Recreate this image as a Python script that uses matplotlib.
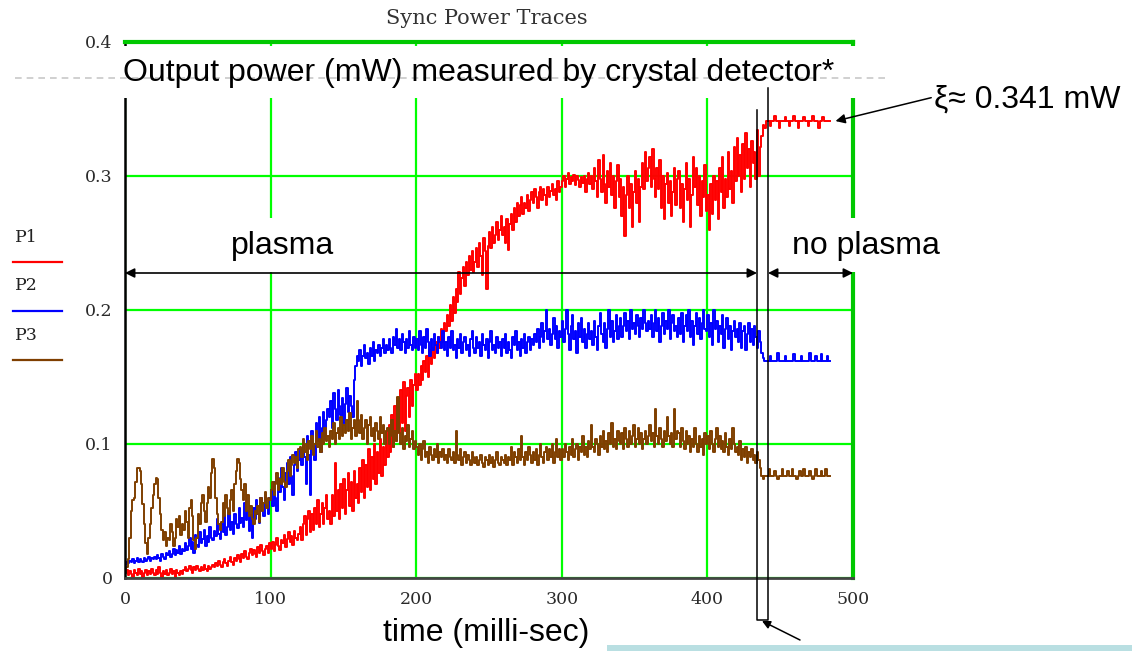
import numpy as np
import matplotlib
matplotlib.use("Agg")
import matplotlib.pyplot as plt

# sample times (ms), 1 ms spacing
t_ms = np.arange(0, 485)

# P1 (red), mW
P1 = [
    .004, .006, .002, .005, .003, .001, .006, .004, .002, .007, .003, .005, .001, .004, .006, .002, .005, .003, .007, .004,
    .002, .006, .003, .008, .004, .001, .005, .003, .006, .002, .004, .007, .003, .005, .001, .006, .004, .002, .005, .003,
    .006, .008, .005, .007, .009, .006, .004, .008, .006, .009, .007, .005, .008, .006, .010, .007, .005, .009, .007, .008,
    .010, .008, .011, .009, .013, .010, .008, .012, .014, .011, .009, .013, .016, .012, .010, .015, .013, .017, .014, .012,
    .018, .015, .020, .016, .014, .019, .022, .017, .021, .018, .016, .023, .019, .025, .020, .017, .022, .024, .019, .026,
    .022, .027, .020, .025, .030, .024, .021, .028, .026, .032, .023, .029, .034, .027, .031, .025, .035, .030, .028, .033,
    .038, .028, .040, .046, .032, .044, .050, .034, .048, .036, .052, .040, .058, .038, .048, .056, .040, .052, .062, .044,
    .050, .040, .062, .046, .086, .050, .066, .044, .070, .052, .074, .048, .066, .078, .054, .072, .050, .080, .060, .070,
    .056, .082, .064, .088, .060, .084, .068, .096, .066, .090, .074, .100, .070, .094, .078, .104, .076, .098, .084, .110,
    .090, .114, .094, .122, .098, .128, .102, .134, .108, .140, .116, .146, .110, .136, .142, .120, .148, .128, .144, .152,
    .140, .152, .144, .158, .148, .162, .154, .166, .150, .170, .160, .172, .164, .176, .168, .180, .172, .186, .176, .190,
    .184, .196, .188, .204, .192, .210, .198, .216, .206, .228, .212, .224, .232, .218, .236, .226, .240, .230, .244, .228,
    .236, .246, .232, .250, .240, .226, .254, .244, .216, .248, .258, .246, .262, .250, .256, .266, .252, .260, .270, .256,
    .262, .250, .268, .245, .264, .272, .260, .276, .266, .280, .270, .278, .284, .272, .280, .276, .286, .274, .282, .288,
    .280, .290, .284, .276, .288, .292, .282, .290, .286, .278, .292, .284, .289, .294, .286, .290, .282, .296, .288, .292,
    .296, .300, .292, .298, .302, .294, .299, .296, .301, .293, .300, .297, .292, .299, .295, .300, .288, .298, .302, .294,
    .300, .290, .306, .296, .284, .312, .298, .288, .316, .294, .280, .304, .292, .310, .286, .300, .276, .296, .308, .284,
    .298, .270, .292, .255, .286, .300, .276, .294, .262, .288, .304, .280, .298, .266, .292, .310, .290, .318, .296, .306,
    .314, .292, .320, .298, .284, .306, .290, .312, .276, .300, .268, .294, .302, .280, .296, .270, .288, .306, .278, .298,
    .304, .276, .294, .266, .290, .310, .282, .298, .262, .286, .314, .292, .306, .278, .300, .270, .296, .284, .308, .274,
    .286, .260, .294, .272, .300, .282, .296, .268, .306, .288, .314, .276, .298, .284, .318, .290, .304, .280, .322, .296,
    .328, .300, .316, .288, .324, .298, .332, .306, .320, .292, .326, .310, .318, .298, .334, .300, .322, .330, .338, .336,
    .341, .341, .341, .337, .341, .341, .345, .341, .341, .336, .341, .341, .341, .344, .341, .341, .337, .341, .341, .345,
    .341, .341, .336, .341, .341, .341, .344, .341, .341, .337, .341, .341, .345, .341, .341, .341, .336, .341, .341, .344,
    .341, .341, .341, .341, .341,
]

# P2 (blue), mW
P2 = [
    .010, .012, .011, .013, .012, .014, .011, .013, .015, .012, .014, .013, .012, .015, .013, .014, .016, .013, .015, .014,
    .016, .014, .017, .015, .013, .018, .016, .014, .019, .017, .020, .016, .018, .022, .017, .021, .019, .024, .018, .022,
    .020, .026, .021, .024, .030, .022, .027, .019, .032, .025, .023, .034, .026, .029, .036, .024, .031, .027, .038, .030,
    .028, .035, .031, .044, .033, .029, .040, .034, .046, .032, .038, .050, .036, .042, .033, .048, .040, .037, .052, .041,
    .045, .038, .056, .043, .050, .035, .047, .030, .052, .044, .058, .048, .041, .060, .050, .046, .062, .054, .048, .060,
    .066, .054, .072, .060, .050, .075, .064, .082, .068, .058, .078, .086, .070, .090, .076, .062, .084, .094, .080, .088,
    .096, .084, .100, .090, .070, .106, .092, .062, .110, .098, .088, .116, .102, .120, .094, .112, .124, .104, .118, .126,
    .120, .132, .112, .138, .126, .118, .140, .128, .122, .134, .116, .130, .142, .124, .136, .128, .120, .148, .158, .166,
    .162, .170, .158, .166, .174, .164, .168, .160, .172, .166, .176, .162, .170, .168, .174, .166, .172, .178, .168, .174,
    .170, .178, .172, .168, .180, .174, .186, .172, .178, .170, .182, .176, .168, .178, .172, .184, .174, .170, .180, .172,
    .178, .170, .184, .174, .168, .180, .172, .186, .176, .166, .178, .170, .182, .174, .168, .180, .176, .172, .184, .170,
    .176, .166, .180, .172, .184, .170, .174, .164, .178, .172, .182, .168, .176, .180, .170, .174, .166, .178, .184, .172,
    .168, .180, .172, .176, .166, .182, .174, .170, .178, .164, .176, .184, .170, .174, .168, .180, .172, .176, .166, .178,
    .172, .182, .168, .176, .170, .164, .180, .174, .184, .170, .176, .166, .178, .172, .182, .168, .176, .180, .170, .178,
    .174, .182, .176, .186, .172, .180, .190, .176, .184, .200, .178, .186, .174, .182, .194, .178, .188, .172, .184, .180,
    .192, .176, .186, .200, .182, .170, .188, .196, .178, .184, .168, .190, .180, .194, .176, .186, .172, .182, .190, .178,
    .184, .174, .192, .180, .170, .188, .198, .182, .176, .190, .172, .186, .200, .180, .192, .176, .184, .196, .178, .188,
    .194, .180, .188, .198, .184, .192, .178, .200, .186, .190, .182, .196, .188, .180, .194, .186, .200, .190, .184, .192,
    .186, .196, .180, .190, .200, .184, .194, .176, .188, .198, .182, .192, .186, .200, .178, .190, .196, .184, .188, .180,
    .194, .182, .198, .176, .188, .196, .184, .200, .180, .192, .174, .188, .198, .182, .194, .178, .190, .200, .186, .184,
    .196, .180, .190, .174, .200, .186, .192, .176, .188, .182, .196, .172, .186, .194, .178, .188, .170, .184, .192, .180,
    .186, .176, .190, .172, .184, .188, .170, .182, .190, .176, .186, .174, .188, .180, .172, .184, .176, .168, .164, .162,
    .162, .162, .162, .166, .162, .162, .162, .162, .168, .162, .162, .162, .162, .166, .162, .162, .162, .162, .162, .167,
    .162, .162, .162, .162, .166, .162, .162, .162, .162, .162, .168, .162, .162, .162, .166, .162, .162, .162, .167, .162,
    .162, .162, .166, .162, .162,
]

# P3 (brown), mW
P3 = [
    .004, .008, .014, .030, .050, .058, .060, .072, .082, .082, .080, .070, .055, .040, .026, .018, .030, .040, .052, .062,
    .070, .075, .074, .060, .048, .036, .028, .034, .024, .030, .028, .040, .034, .024, .030, .044, .038, .046, .032, .040,
    .036, .050, .042, .030, .052, .058, .046, .028, .022, .030, .048, .040, .056, .062, .050, .042, .056, .068, .060, .078,
    .089, .082, .060, .048, .040, .036, .042, .056, .046, .062, .052, .048, .058, .066, .050, .070, .080, .089, .086, .074,
    .066, .058, .070, .050, .062, .046, .054, .044, .040, .050, .048, .054, .042, .060, .050, .056, .064, .052, .060, .058,
    .066, .072, .062, .070, .078, .066, .074, .070, .082, .072, .068, .080, .088, .076, .084, .092, .086, .090, .082, .096,
    .098, .090, .104, .094, .100, .088, .102, .096, .106, .092, .100, .110, .098, .104, .094, .108, .100, .112, .102, .106,
    .098, .110, .104, .116, .100, .108, .112, .104, .120, .106, .114, .108, .118, .110, .123, .104, .112, .118, .106, .132,
    .118, .108, .122, .104, .112, .118, .100, .114, .120, .106, .112, .102, .116, .110, .104, .120, .108, .114, .100, .110,
    .112, .100, .106, .118, .098, .110, .102, .135, .108, .100, .112, .096, .106, .102, .114, .098, .104, .110, .096, .102,
    .098, .092, .100, .088, .096, .102, .090, .094, .086, .098, .092, .088, .096, .090, .100, .086, .094, .090, .096, .088,
    .092, .086, .096, .090, .088, .094, .086, .110, .092, .088, .096, .084, .090, .094, .086, .092, .088, .084, .094, .090,
    .086, .090, .084, .088, .092, .086, .083, .090, .088, .084, .092, .086, .090, .083, .088, .094, .086, .084, .090, .088,
    .086, .092, .084, .090, .088, .098, .084, .094, .090, .086, .096, .088, .106, .090, .084, .094, .088, .098, .092, .086,
    .094, .088, .096, .084, .092, .100, .090, .086, .094, .098, .088, .096, .090, .100, .086, .094, .104, .090, .096, .088,
    .096, .090, .100, .094, .088, .098, .092, .104, .090, .096, .100, .088, .098, .094, .106, .092, .098, .090, .102, .096,
    .114, .098, .094, .104, .100, .092, .106, .098, .110, .096, .102, .094, .108, .100, .116, .098, .104, .096, .110, .102,
    .100, .108, .096, .112, .104, .098, .110, .100, .106, .114, .098, .104, .112, .100, .108, .096, .104, .110, .100, .106,
    .114, .102, .108, .098, .126, .106, .100, .112, .104, .098, .110, .102, .120, .106, .100, .108, .098, .126, .104, .110,
    .108, .098, .112, .102, .096, .110, .100, .106, .094, .104, .098, .112, .100, .094, .106, .098, .104, .092, .108, .100,
    .106, .096, .110, .100, .094, .104, .112, .098, .106, .096, .102, .094, .108, .098, .092, .104, .096, .112, .100, .094,
    .098, .092, .102, .088, .096, .090, .098, .086, .094, .090, .096, .088, .092, .086, .094, .088, .082, .076, .074, .076,
    .076, .076, .081, .076, .076, .076, .080, .076, .074, .076, .076, .081, .076, .076, .076, .080, .076, .076, .081, .076,
    .076, .074, .076, .080, .076, .076, .081, .076, .076, .076, .080, .076, .074, .076, .081, .076, .076, .076, .080, .076,
    .076, .081, .076, .076, .076,
]

series = [("P1", P1, "#ff0000"), ("P2", P2, "#0000ff"), ("P3", P3, "#7f3f00")]

x_ticks = [0, 100, 200, 300, 400, 500]
y_ticks = [0, 0.1, 0.2, 0.3, 0.4]
y_labels = ["0", "0.1", "0.2", "0.3", "0.4"]

SANS = "Liberation Sans"
SERIF = "DejaVu Serif"
GREEN = "#00ff00"

W, H = 1132, 651
fig = plt.figure(figsize=(W / 100, H / 100), dpi=100)
fig.patch.set_facecolor("white")

ax = fig.add_axes([125 / W, 1 - 578 / H, 728 / W, 536 / H])
for name, vals, col in series:
    ax.plot(t_ms, vals, color=col, lw=1.4, drawstyle="steps-post")

ax.set_xlim(0, 500)
ax.set_ylim(0, 0.4)
ax.set_xticks(x_ticks)
ax.set_xticklabels([str(v) for v in x_ticks])
ax.set_yticks(y_ticks)
ax.set_yticklabels(y_labels)
ax.tick_params(length=0, pad=9, labelsize=12.5, labelcolor="#2a2a2a")
for lab in ax.get_xticklabels() + ax.get_yticklabels():
    lab.set_fontfamily(SERIF)
ax.set_axisbelow(True)
ax.grid(True, color=GREEN, lw=1.6)
ax.spines["left"].set_color("black")
ax.spines["left"].set_linewidth(1.8)
ax.spines["bottom"].set_color("#444444")
ax.spines["bottom"].set_linewidth(2.0)
for side in ("top", "right"):
    ax.spines[side].set_color("#00c800")
    ax.spines[side].set_linewidth(3.0)

# overlay in pixel coordinates for the slide annotations
ov = fig.add_axes([0, 0, 1, 1], zorder=5)
ov.set_xlim(0, W)
ov.set_ylim(H, 0)
ov.axis("off")
ov.patch.set_alpha(0)

ov.text(487, 18, "Sync Power Traces", family=SERIF, fontsize=15,
        ha="center", va="center", color="#333333")

# dashed slide line behind the heading
ov.plot([15, 885], [78, 78], color="#c8c8c8", lw=1.2, ls=(0, (4, 3)))

# white label boxes
ov.add_patch(plt.Rectangle((110, 46), 750, 52, facecolor="white", edgecolor="none"))
ov.add_patch(plt.Rectangle((215, 218), 135, 54, facecolor="white", edgecolor="none"))
ov.add_patch(plt.Rectangle((776, 218), 175, 54, facecolor="white", edgecolor="none"))
ov.add_patch(plt.Rectangle((607, 645), W - 607, 6, facecolor="#b9dfe2", edgecolor="none"))

FS = 23
ov.text(123, 73, "Output power (mW) measured by crystal detector*", family=SANS,
        fontsize=FS, ha="left", va="center")
ov.text(283, 246, "plasma", family=SANS, fontsize=FS, ha="center", va="center")
ov.text(866, 246, "no plasma", family=SANS, fontsize=FS, ha="center", va="center")
ov.text(383, 633, "time (milli-sec)", family=SANS, fontsize=FS, ha="left", va="center")

# plasma / no plasma spans
arr = dict(arrowstyle="<|-|>", color="black", lw=1.2, mutation_scale=14,
           shrinkA=0, shrinkB=0)
ov.annotate("", xy=(125, 273), xytext=(757, 273), arrowprops=arr)
ov.annotate("", xy=(768, 273), xytext=(853, 273), arrowprops=arr)

# narrow marker at plasma shut-off
ov.plot([757, 757, 768, 768], [110, 620, 620, 88], color="black", lw=1.1)
ov.annotate("", xy=(762, 621), xytext=(800, 640),
            arrowprops=dict(arrowstyle="-|>", color="black", lw=1.1,
                            mutation_scale=12, shrinkA=0, shrinkB=0))

# steady level after plasma is off
ov.annotate("ξ≈ 0.341 mW", xy=(488, P1[-1]), xycoords=ax.transData,
            xytext=(934, 100), textcoords="data", family=SANS, fontsize=FS,
            ha="left", va="center",
            arrowprops=dict(arrowstyle="-|>", color="black", lw=1.1,
                            mutation_scale=14, shrinkA=0, shrinkB=0,
                            relpos=(0, 0.6)))

# trace legend on the left
for i, (name, vals, col) in enumerate(series):
    y0 = 237 + 49 * i
    ov.text(15, y0, name, family=SERIF, fontsize=12.5, ha="left", va="center",
            color="#222222")
    ov.plot([13, 62], [y0 + 25, y0 + 25], color=col, lw=1.6)

fig.savefig("out.png", dpi=100, facecolor="white")
